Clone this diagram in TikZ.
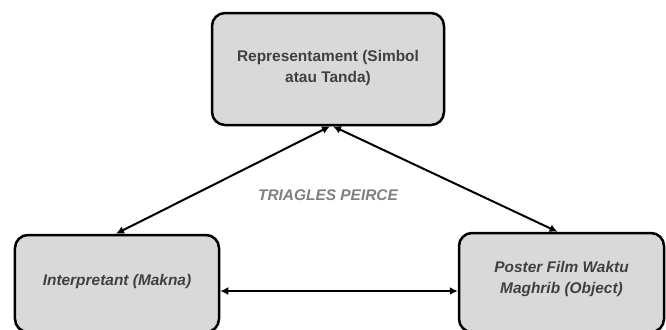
\documentclass[tikz,border=0pt]{standalone}
\usepackage{fontspec}
\setmainfont{Liberation Sans}
\usetikzlibrary{arrows.meta}
\definecolor{boxfill}{HTML}{D9D9D9}
\definecolor{boxtext}{HTML}{404040}
\definecolor{titletext}{HTML}{7F7F7F}
\begin{document}
\begin{tikzpicture}[x=1bp,y=-1bp,
  box/.style={draw=black, line width=2.5bp, fill=boxfill, rounded corners=13bp,
    align=center, text=boxtext, font=\fontsize{15.5}{21}\selectfont\bfseries,
    inner sep=0pt},
  conn/.style={line width=2bp, {Latex[length=8bp,width=8bp]}-{Latex[length=8bp,width=8bp]}}
]
\useasboundingbox (0,0) rectangle (666,329);
\node[box, minimum width=232bp, minimum height=112bp] (rep) at (328,69)
  {Representament (Simbol\\atau Tanda)\\[-16bp]};
\node[box, minimum width=204bp, minimum height=97bp, font=\fontsize{15.5}{21}\selectfont\bfseries\itshape] (int) at (117,283.5)
  {Interpretant (Makna)\\[-14bp]};
\node[box, minimum width=205bp, minimum height=99bp, font=\fontsize{15.5}{21}\selectfont\bfseries\itshape] (obj) at (561.5,282.5)
  {Poster Film Waktu\\Maghrib (Object)\\[-11bp]};
\node[text=titletext, font=\fontsize{15.5}{17}\selectfont\bfseries\itshape] (title) at (328,195) {TRIAGLES PEIRCE};
\draw[conn] ([xshift=2bp]rep.south) -- ([xshift=-1bp]int.north);
\draw[conn] ([xshift=5bp]rep.south) -- ([xshift=-4bp]obj.north);
\draw[conn] (int.east |- 0,291) -- (obj.west |- 0,291);
\end{tikzpicture}
\end{document}
